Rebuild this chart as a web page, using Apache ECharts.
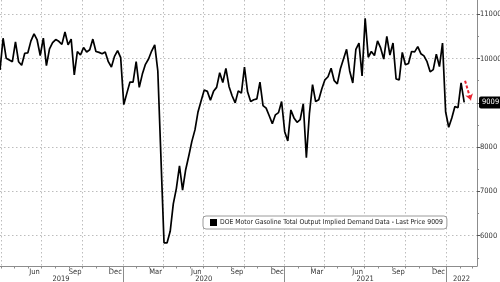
<!DOCTYPE html>
<html>
<head>
<meta charset="utf-8">
<script src="https://cdn.jsdelivr.net/npm/echarts@6/dist/echarts.min.js"></script>
<style>html,body{margin:0;padding:0;background:#fff}#c{width:500px;height:282px}</style>
</head>
<body>
<div id="c"></div>
<script>
// ---- data ----
const seriesName = 'DOE Motor Gasoline Total Output Implied Demand Data - Last Price 9009';
const firstWeek = '2019-03-29'; // weekly observations (Fridays)
const demand = [
  9745,10460,10010,9970,9930,10380,9930,9850,10120,10130,
  10400,10560,10420,10070,10460,9840,10220,10360,10430,10390,
  10320,10600,10310,10440,9630,10160,10080,10250,10150,10200,
  10440,10160,10140,10110,10150,9930,9810,10050,10180,10020,
  8960,9220,9470,9470,9930,9350,9650,9870,9990,10170,
  10310,9720,7780,5840,5840,6100,6720,7070,7580,7030,
  7490,7800,8130,8390,8800,9050,9290,9260,9060,9260,
  9350,9680,9460,9780,9370,9160,9000,9270,9220,9810,
  9250,9030,9070,9090,9470,8940,8880,8710,8530,8730,
  8780,9030,8350,8140,8840,8660,8560,8620,8980,7760,
  8770,9410,9030,9070,9320,9520,9590,9780,9500,9430,
  9770,9990,10210,9720,9450,10210,10350,9610,10910,10030,
  10160,10070,10400,10240,9990,10500,10080,10350,9540,9520,
  10140,9860,9890,10160,10150,10270,10110,10060,9930,9700,
  9750,10100,9820,10350,8800,8450,8660,8920,8890,9450,
  9009
];
const lastPrice = 9009;
const yTicks = [6000, 7000, 8000, 9000, 10000, 11000];
const yMinorTicks = [5500, 6500, 7500, 8500, 9500, 10500];
const monthLabelDates = ['2019-06-15','2019-09-15','2019-12-15','2020-03-15','2020-06-15','2020-09-15','2020-12-15','2021-03-15','2021-06-15','2021-09-15','2021-12-15'];
const monthNames = ['Jan','Feb','Mar','Apr','May','Jun','Jul','Aug','Sep','Oct','Nov','Dec'];
const quarterStarts = ['2019-04-01','2019-07-01','2019-10-01','2020-01-01','2020-04-01','2020-07-01','2020-10-01','2021-01-01','2021-04-01','2021-07-01','2021-10-01','2022-01-01'];
const yearStarts = ['2020-01-01','2021-01-01','2022-01-01'];
const yearLabelDates = ['2019-08-14','2020-07-02','2021-07-02','2022-02-05'];
const arrowFrom = ['2022-02-13', 9500];
const arrowTo = ['2022-02-26', 9060];
const xRange = ['2019-03-29', '2022-03-12'];
const yRange = [5316, 11323];

// ---- build ----
const ts = s => Date.parse(s + 'T00:00:00Z');
const DAY = 86400000;
const t0 = ts(firstWeek);
const lineData = demand.map((v, i) => [t0 + i * 7 * DAY, v]);
const xMin = ts(xRange[0]), xMax = ts(xRange[1]);
const monthStarts = [];
for (let y = 2019; y <= 2022; y++) for (let m = 0; m < 12; m++) {
  const t = Date.UTC(y, m, 1);
  if (t > xMin && t < xMax) monthStarts.push(t);
}
const FONT = '"Liberation Sans Narrow","DejaVu Sans Condensed","Liberation Sans",Arial,sans-serif';
const gridColor = '#bdbdbd';
const axisColor = '#8c8c8c';
const txt = '#333';

const baseX = { type: 'value', min: xMin, max: xMax, gridIndex: 0, position: 'bottom' };
const baseY = { type: 'value', min: yRange[0], max: yRange[1], position: 'right', gridIndex: 0 };

const chart = echarts.init(document.getElementById('c'), null, { renderer: 'canvas' });
chart.setOption({
  animation: false,
  backgroundColor: '#fff',
  grid: { left: 0, right: 23, top: 0, bottom: 16, containLabel: false, outerBoundsMode: 'none' },
  legend: {
    left: 203, top: 216,
    data: [seriesName],
    icon: 'rect', itemWidth: 7, itemHeight: 7, itemGap: 4,
    padding: [3, 4, 3, 7],
    backgroundColor: '#fff', borderColor: '#9a9a9a', borderWidth: 1, borderRadius: 3,
    textStyle: { fontFamily: FONT, fontSize: 6.8, color: '#222', padding: [0, 0, 0, -2] }
  },
  xAxis: [
    Object.assign({}, baseX, {
      axisLine: { show: true, lineStyle: { color: axisColor, width: 1 } },
      axisTick: { show: false, customValues: quarterStarts.map(ts) },
      splitLine: { show: true, lineStyle: { color: gridColor, type: [1.5, 2.5], width: 1 } },
      axisLabel: {
        customValues: monthLabelDates.map(ts), margin: 2,
        fontFamily: FONT, fontSize: 7.5, color: txt,
        formatter: v => monthNames[new Date(v).getUTCMonth()]
      }
    }),
    Object.assign({}, baseX, {
      axisLine: { show: false },
      axisTick: { show: true, customValues: monthStarts, length: 2.5, lineStyle: { color: axisColor } },
      splitLine: { show: false },
      axisLabel: { show: false }
    }),
    Object.assign({}, baseX, {
      axisLine: { show: false },
      axisTick: { show: true, customValues: yearStarts.map(ts), length: 16, lineStyle: { color: axisColor } },
      splitLine: { show: false },
      axisLabel: {
        customValues: yearLabelDates.map(ts), margin: 9,
        fontFamily: FONT, fontSize: 7.5, color: txt,
        formatter: v => String(new Date(v).getUTCFullYear())
      }
    })
  ],
  yAxis: [
    Object.assign({}, baseY, {
      axisLine: { show: true, lineStyle: { color: axisColor, width: 1 } },
      axisTick: { show: true, inside: false, customValues: yTicks, length: 3, lineStyle: { color: '#555' } },
      splitLine: { show: true, lineStyle: { color: gridColor, type: [1.5, 2.5], width: 1 } },
      axisLabel: { customValues: yTicks, margin: 3, fontFamily: FONT, fontSize: 7.5, color: txt, formatter: v => String(v) }
    }),
    Object.assign({}, baseY, {
      axisLine: { show: false },
      axisTick: { show: true, customValues: yMinorTicks, length: 2, lineStyle: { color: axisColor } },
      splitLine: { show: false },
      axisLabel: { show: false }
    }),
    Object.assign({}, baseY, {
      axisLine: { show: false },
      axisTick: { show: false, customValues: [lastPrice] },
      splitLine: { show: false },
      axisLabel: {
        customValues: [lastPrice], margin: 2,
        fontFamily: FONT, fontSize: 7.5, color: '#fff',
        backgroundColor: '#000', padding: [2, 4, 2, 3], borderRadius: 2,
        formatter: v => String(v)
      }
    })
  ],
  series: [{
    name: seriesName,
    type: 'line',
    xAxisIndex: 0, yAxisIndex: 0,
    data: lineData,
    symbol: 'none',
    lineStyle: { color: '#000', width: 1.7 },
    itemStyle: { color: '#000' },
    z: 3,
    markLine: {
      silent: true,
      symbol: ['none', 'arrow'], symbolSize: 6,
      label: { show: false },
      lineStyle: { color: '#e8232f', type: [3, 2], width: 2 },
      data: [[
        { coord: [ts(arrowFrom[0]), arrowFrom[1]] },
        { coord: [ts(arrowTo[0]), arrowTo[1]] }
      ]]
    }
  }]
});
</script>
</body>
</html>
